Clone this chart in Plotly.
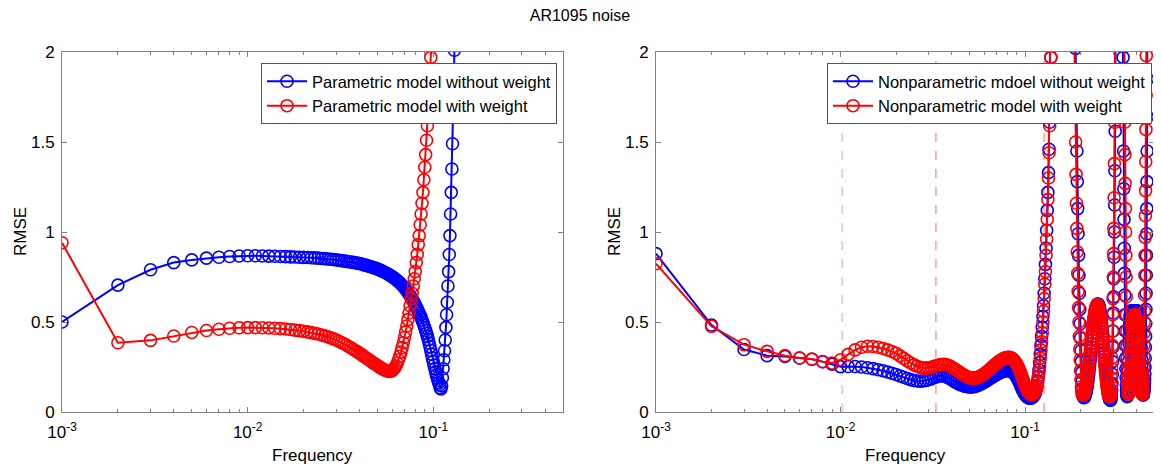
import plotly.graph_objects as go

# ---------------- data ----------------
# frequency grid (0.001 ... 0.500, step 0.001)
FREQ = [i / 1000 for i in range(1, 501)]

# Left panel: parametric models (values read until the curve leaves the 0..2 window)
P_BLUE = [
    0.500, 0.705, 0.790, 0.830, 0.845, 0.855, 0.860, 0.864, 0.867, 0.868,
    0.868, 0.867, 0.866, 0.865, 0.864, 0.863, 0.862, 0.861, 0.860, 0.859,
    0.858, 0.857, 0.856, 0.855, 0.853, 0.852, 0.850, 0.849, 0.847, 0.845,
    0.843, 0.841, 0.839, 0.837, 0.835, 0.833, 0.831, 0.829, 0.827, 0.825,
    0.822, 0.819, 0.816, 0.813, 0.810, 0.807, 0.804, 0.801, 0.798, 0.795,
    0.791, 0.787, 0.783, 0.779, 0.775, 0.771, 0.767, 0.762, 0.757, 0.752,
    0.747, 0.742, 0.736, 0.730, 0.724, 0.718, 0.711, 0.704, 0.697, 0.690,
    0.682, 0.674, 0.665, 0.656, 0.647, 0.637, 0.627, 0.617, 0.606, 0.595,
    0.584, 0.573, 0.561, 0.549, 0.537, 0.524, 0.511, 0.497, 0.483, 0.468,
    0.453, 0.437, 0.420, 0.402, 0.383, 0.363, 0.342, 0.321, 0.300, 0.280,
    0.260, 0.241, 0.223, 0.206, 0.190, 0.175, 0.162, 0.150, 0.135, 0.128,
    0.145, 0.190, 0.240, 0.290, 0.340, 0.400, 0.470, 0.540, 0.610, 0.700,
    0.780, 0.875, 0.980, 1.100, 1.220, 1.350, 1.490, 1.650, 1.820, 2.010,
    2.220,
]
P_RED = [
    0.940, 0.385, 0.398, 0.422, 0.442, 0.453, 0.460, 0.465, 0.468, 0.469,
    0.469, 0.468, 0.467, 0.465, 0.463, 0.461, 0.458, 0.455, 0.452, 0.449,
    0.445, 0.441, 0.437, 0.433, 0.428, 0.423, 0.418, 0.412, 0.406, 0.400,
    0.393, 0.386, 0.379, 0.372, 0.364, 0.357, 0.349, 0.342, 0.334, 0.327,
    0.319, 0.312, 0.304, 0.297, 0.290, 0.283, 0.276, 0.270, 0.264, 0.258,
    0.252, 0.246, 0.241, 0.236, 0.232, 0.229, 0.227, 0.226, 0.227, 0.230,
    0.236, 0.245, 0.257, 0.272, 0.290, 0.310, 0.333, 0.358, 0.385, 0.414,
    0.445, 0.478, 0.513, 0.550, 0.590, 0.630, 0.660, 0.700, 0.740, 0.780,
    0.830, 0.876, 0.930, 0.980, 1.040, 1.100, 1.160, 1.220, 1.290, 1.360,
    1.430, 1.510, 1.590, 1.680, 1.770, 1.870, 1.970, 2.080,
]

# Right panel: nonparametric models, 0.001 ... 0.500
NP_BLUE = [
    0.880, 0.483, 0.347, 0.313, 0.308, 0.300, 0.293, 0.280, 0.266, 0.252,
    0.253, 0.253, 0.250, 0.246, 0.241, 0.235, 0.229, 0.222, 0.215, 0.208,
    0.200, 0.193, 0.186, 0.180, 0.175, 0.172, 0.171, 0.172, 0.175, 0.179,
    0.184, 0.190, 0.195, 0.199, 0.201, 0.200, 0.197, 0.192, 0.186, 0.179,
    0.172, 0.166, 0.160, 0.155, 0.151, 0.147, 0.144, 0.142, 0.140, 0.139,
    0.139, 0.140, 0.141, 0.143, 0.146, 0.149, 0.153, 0.157, 0.161, 0.165,
    0.170, 0.174, 0.179, 0.183, 0.188, 0.192, 0.196, 0.200, 0.204, 0.208,
    0.212, 0.215, 0.218, 0.221, 0.224, 0.226, 0.228, 0.229, 0.230, 0.231,
    0.231, 0.230, 0.229, 0.227, 0.224, 0.220, 0.215, 0.209, 0.202, 0.194,
    0.185, 0.175, 0.165, 0.154, 0.143, 0.132, 0.122, 0.113, 0.105, 0.098,
    0.092, 0.087, 0.083, 0.080, 0.078, 0.077, 0.077, 0.078, 0.080, 0.083,
    0.087, 0.093, 0.100, 0.110, 0.125, 0.145, 0.170, 0.200, 0.235, 0.275,
    0.320, 0.370, 0.420, 0.470, 0.530, 0.590, 0.660, 0.740, 0.820, 0.910,
    1.010, 1.120, 1.220, 1.330, 1.460, 1.610, 1.780, 1.970, 2.200, 2.480,
    2.800, 3.150, 3.550, 3.950, 4.350, 4.700, 5.000, 5.250, 5.400, 5.500,
    5.550, 5.550, 5.500, 5.400, 5.300, 5.150, 5.000, 4.850, 4.700, 4.550,
    4.400, 4.250, 4.100, 3.950, 3.800, 3.650, 3.550, 3.450, 3.350, 3.250,
    3.150, 3.050, 2.980, 2.920, 2.860, 2.800, 2.740, 2.680, 2.620, 2.550,
    2.480, 2.420, 2.360, 2.300, 2.240, 2.180, 2.100, 2.020, 1.840, 1.640,
    1.450, 1.280, 1.130, 0.990, 0.870, 0.760, 0.660, 0.570, 0.490, 0.410,
    0.340, 0.280, 0.220, 0.170, 0.130, 0.100, 0.085, 0.080, 0.081, 0.083,
    0.087, 0.093, 0.100, 0.108, 0.118, 0.130, 0.143, 0.156, 0.171, 0.187,
    0.204, 0.222, 0.240, 0.260, 0.280, 0.300, 0.320, 0.340, 0.360, 0.380,
    0.400, 0.420, 0.439, 0.458, 0.476, 0.493, 0.509, 0.524, 0.538, 0.550,
    0.561, 0.571, 0.580, 0.587, 0.593, 0.597, 0.599, 0.600, 0.599, 0.597,
    0.593, 0.587, 0.580, 0.571, 0.561, 0.550, 0.538, 0.524, 0.510, 0.494,
    0.478, 0.461, 0.443, 0.425, 0.406, 0.387, 0.368, 0.349, 0.330, 0.311,
    0.292, 0.273, 0.254, 0.236, 0.218, 0.201, 0.184, 0.168, 0.153, 0.139,
    0.126, 0.114, 0.103, 0.094, 0.086, 0.079, 0.074, 0.070, 0.067, 0.066,
    0.066, 0.070, 0.080, 0.095, 0.120, 0.160, 0.210, 0.280, 0.360, 0.450,
    0.550, 0.640, 0.740, 0.860, 1.000, 1.150, 1.340, 1.560, 1.820, 2.120,
    2.450, 2.800, 3.200, 3.600, 4.000, 4.300, 4.600, 4.800, 4.900, 5.000,
    5.000, 4.950, 4.850, 4.700, 4.500, 4.300, 4.100, 3.900, 3.700, 3.550,
    3.400, 3.200, 3.000, 2.850, 2.700, 2.580, 2.460, 2.340, 2.200, 1.970,
    1.690, 1.450, 1.240, 1.070, 0.910, 0.770, 0.650, 0.540, 0.450, 0.370,
    0.300, 0.240, 0.190, 0.150, 0.120, 0.100, 0.090, 0.085, 0.090, 0.110,
    0.140, 0.180, 0.230, 0.280, 0.330, 0.380, 0.420, 0.460, 0.490, 0.510,
    0.530, 0.540, 0.550, 0.555, 0.558, 0.560, 0.561, 0.562, 0.562, 0.562,
    0.562, 0.561, 0.561, 0.560, 0.560, 0.559, 0.559, 0.558, 0.558, 0.558,
    0.558, 0.558, 0.559, 0.559, 0.560, 0.560, 0.561, 0.561, 0.562, 0.562,
    0.562, 0.562, 0.561, 0.561, 0.560, 0.560, 0.559, 0.559, 0.558, 0.557,
    0.556, 0.555, 0.553, 0.551, 0.548, 0.545, 0.540, 0.530, 0.520, 0.505,
    0.490, 0.470, 0.445, 0.420, 0.390, 0.360, 0.330, 0.295, 0.260, 0.225,
    0.190, 0.160, 0.135, 0.115, 0.100, 0.095, 0.095, 0.100, 0.105, 0.110,
    0.120, 0.130, 0.145, 0.160, 0.180, 0.210, 0.250, 0.300, 0.360, 0.420,
    0.490, 0.570, 0.660, 0.760, 0.870, 0.990, 1.130, 1.280, 1.450, 1.640,
    1.850, 2.100, 2.400, 2.750, 3.100, 3.500, 3.900, 4.300, 4.700, 5.100,
    5.500, 5.900, 6.200, 6.500, 6.700, 6.900, 7.000, 7.100, 7.100, 7.000,
    6.900, 6.800, 6.600, 6.400, 6.200, 6.000, 5.800, 5.600, 5.400, 5.200,
    5.000, 4.800, 4.600, 4.500, 4.400, 4.300, 4.200, 4.100, 4.000, 3.900,
]
NP_RED = [
    0.824, 0.476, 0.374, 0.337, 0.313, 0.300, 0.294, 0.279, 0.272, 0.290,
    0.320, 0.345, 0.360, 0.365, 0.364, 0.360, 0.353, 0.345, 0.336, 0.326,
    0.312, 0.298, 0.284, 0.272, 0.262, 0.254, 0.248, 0.245, 0.244, 0.245,
    0.248, 0.252, 0.257, 0.261, 0.264, 0.265, 0.264, 0.261, 0.256, 0.250,
    0.243, 0.236, 0.229, 0.222, 0.215, 0.209, 0.203, 0.198, 0.194, 0.191,
    0.189, 0.188, 0.188, 0.189, 0.191, 0.194, 0.198, 0.202, 0.207, 0.212,
    0.217, 0.223, 0.229, 0.235, 0.241, 0.247, 0.253, 0.259, 0.265, 0.270,
    0.275, 0.280, 0.284, 0.288, 0.292, 0.295, 0.298, 0.300, 0.302, 0.303,
    0.304, 0.304, 0.303, 0.301, 0.298, 0.294, 0.289, 0.283, 0.276, 0.268,
    0.259, 0.249, 0.238, 0.226, 0.213, 0.200, 0.187, 0.174, 0.161, 0.149,
    0.138, 0.128, 0.119, 0.112, 0.106, 0.102, 0.099, 0.097, 0.097, 0.098,
    0.101, 0.105, 0.111, 0.119, 0.130, 0.145, 0.165, 0.190, 0.220, 0.255,
    0.300, 0.345, 0.390, 0.440, 0.500, 0.560, 0.630, 0.710, 0.780, 0.870,
    0.960, 1.070, 1.180, 1.300, 1.440, 1.590, 1.780, 1.970, 2.200, 2.500,
    2.850, 3.250, 3.700, 4.150, 4.600, 5.000, 5.350, 5.600, 5.800, 5.900,
    5.950, 5.950, 5.900, 5.800, 5.650, 5.500, 5.300, 5.100, 4.900, 4.700,
    4.500, 4.300, 4.100, 3.900, 3.700, 3.550, 3.400, 3.250, 3.100, 2.980,
    2.880, 2.800, 2.720, 2.650, 2.580, 2.520, 2.460, 2.400, 2.350, 2.300,
    2.260, 2.220, 2.180, 2.140, 2.080, 1.900, 1.700, 1.500, 1.320, 1.160,
    1.020, 0.890, 0.770, 0.670, 0.580, 0.500, 0.420, 0.350, 0.290, 0.230,
    0.180, 0.140, 0.115, 0.100, 0.095, 0.095, 0.096, 0.098, 0.102, 0.107,
    0.114, 0.122, 0.131, 0.143, 0.155, 0.168, 0.183, 0.198, 0.215, 0.232,
    0.249, 0.268, 0.287, 0.306, 0.325, 0.345, 0.364, 0.383, 0.402, 0.421,
    0.440, 0.458, 0.475, 0.491, 0.506, 0.520, 0.533, 0.545, 0.556, 0.565,
    0.573, 0.580, 0.586, 0.590, 0.593, 0.595, 0.594, 0.592, 0.588, 0.583,
    0.576, 0.567, 0.557, 0.546, 0.534, 0.521, 0.507, 0.492, 0.476, 0.460,
    0.443, 0.425, 0.407, 0.389, 0.370, 0.351, 0.332, 0.313, 0.294, 0.276,
    0.258, 0.240, 0.223, 0.206, 0.190, 0.175, 0.160, 0.147, 0.134, 0.123,
    0.113, 0.104, 0.097, 0.092, 0.088, 0.086, 0.085, 0.085, 0.087, 0.091,
    0.098, 0.120, 0.150, 0.190, 0.240, 0.300, 0.370, 0.450, 0.540, 0.630,
    0.750, 0.880, 1.020, 1.190, 1.380, 1.610, 1.870, 2.150, 2.500, 2.900,
    3.300, 3.700, 4.100, 4.500, 4.800, 5.100, 5.300, 5.450, 5.550, 5.600,
    5.600, 5.550, 5.450, 5.300, 5.100, 4.900, 4.700, 4.450, 4.200, 4.000,
    3.800, 3.600, 3.400, 3.200, 3.050, 2.900, 2.780, 2.660, 2.550, 2.450,
    2.350, 2.280, 2.220, 2.160, 2.080, 1.850, 1.610, 1.430, 1.270, 1.130,
    1.000, 0.870, 0.750, 0.640, 0.540, 0.450, 0.370, 0.300, 0.240, 0.190,
    0.150, 0.120, 0.105, 0.100, 0.101, 0.105, 0.112, 0.121, 0.133, 0.147,
    0.164, 0.183, 0.203, 0.225, 0.248, 0.272, 0.296, 0.320, 0.344, 0.368,
    0.392, 0.415, 0.437, 0.457, 0.476, 0.494, 0.509, 0.521, 0.530, 0.536,
    0.539, 0.540, 0.540, 0.539, 0.537, 0.534, 0.530, 0.525, 0.519, 0.511,
    0.502, 0.492, 0.481, 0.469, 0.456, 0.442, 0.427, 0.411, 0.395, 0.378,
    0.361, 0.343, 0.325, 0.307, 0.289, 0.271, 0.254, 0.237, 0.220, 0.204,
    0.189, 0.175, 0.161, 0.149, 0.138, 0.128, 0.120, 0.113, 0.108, 0.104,
    0.101, 0.100, 0.100, 0.105, 0.115, 0.130, 0.160, 0.200, 0.250, 0.310,
    0.370, 0.440, 0.500, 0.560, 0.650, 0.760, 0.870, 0.970, 1.090, 1.230,
    1.390, 1.570, 1.760, 1.980, 2.200, 2.450, 2.750, 3.050, 3.400, 3.750,
    4.100, 4.500, 4.900, 5.300, 5.700, 6.000, 6.300, 6.600, 6.800, 7.000,
    7.100, 7.200, 7.200, 7.200, 7.100, 7.000, 6.900, 6.700, 6.500, 6.300,
    6.100, 5.900, 5.700, 5.500, 5.300, 5.100, 4.900, 4.700, 4.500, 4.300,
    4.100, 3.900, 3.700, 3.500, 3.300, 3.100, 2.900, 2.700, 2.500, 2.300,
]

# reference frequencies marked with dashed lines on the right panel
DASH_FREQ = [0.0102, 0.0329, 0.1268]

LEGEND_LEFT = ["Parametric model without weight", "Parametric model with weight"]
LEGEND_RIGHT = ["Nonparametric mdoel without weight", "Nonparametric model with weight"]
TITLE = "AR1095 noise"

# ---------------- figure ----------------
# the page body has an 8 px margin, so the figure is drawn 8 px in from the window corner
OFF = 8
W, H = 1161 - OFF, 468 - OFF
FONT = "Liberation Sans, Arial, sans-serif"
BLUE, RED = "#0000ff", "#ff0000"
AXC = "#7f7f7f"


def px(x):
    """window x pixel -> paper fraction"""
    return (x - OFF) / W


def py(y):
    """window y pixel (from top) -> paper fraction"""
    return 1 - (y - OFF) / H


fig = go.Figure()


def add_series(x, y, color, name, xa, ya, legend):
    fig.add_trace(go.Scatter(
        x=x, y=y, name=name, mode="lines+markers",
        line=dict(color=color, width=2),
        marker=dict(symbol="circle-open", size=12, color=color,
                    line=dict(width=1.6, color=color)),
        xaxis=xa, yaxis=ya, legend=legend, cliponaxis=True,
    ))


# dashed reference lines (right panel)
for i, f in enumerate(DASH_FREQ):
    fig.add_trace(go.Scatter(
        x=[f, f], y=[0, 2], mode="lines", showlegend=False, hoverinfo="skip",
        line=dict(color="#ff9a9a" if i == 0 else "#ff6a6a", width=1, dash="dash"),
        xaxis="x2", yaxis="y2",
    ))

add_series(FREQ[:len(P_BLUE)], P_BLUE, BLUE, LEGEND_LEFT[0], "x", "y", "legend")
add_series(FREQ[:len(P_RED)], P_RED, RED, LEGEND_LEFT[1], "x", "y", "legend")
add_series(FREQ[:len(NP_BLUE)], NP_BLUE, BLUE, LEGEND_RIGHT[0], "x2", "y2", "legend2")
add_series(FREQ[:len(NP_RED)], NP_RED, RED, LEGEND_RIGHT[1], "x2", "y2", "legend2")

yd = [py(412), py(52)]
xd1 = [px(62), px(563)]
xd2 = [px(656), min(1.0, px(1154))]


def xaxis(domain, anchor):
    return dict(
        type="log", domain=domain, anchor=anchor, automargin=False,
        range=[-3, -0.30103],
        tickvals=[0.001, 0.01, 0.1], ticktext=["10<sup>-3</sup>", "10<sup>-2</sup>", "10<sup>-1</sup>"],
        ticks="inside", ticklen=5, tickcolor=AXC, ticklabelstandoff=5,
        minor=dict(ticks="inside", ticklen=3, tickcolor=AXC,
                   tickvals=[m * d for d in (0.001, 0.01, 0.1) for m in range(2, 10) if m * d <= 0.5]),
        showline=True, linecolor=AXC, linewidth=1, mirror="ticks",
        showgrid=False, zeroline=False,
        tickfont=dict(family=FONT, size=17, color="#000"),
    )


def yaxis(anchor):
    return dict(
        domain=yd, anchor=anchor, range=[0, 2], automargin=False,
        tickvals=[0, 0.5, 1, 1.5, 2], ticktext=["0", "0.5", "1", "1.5", "2"],
        ticks="inside", ticklen=5, tickcolor=AXC, ticklabelstandoff=3,
        showline=True, linecolor=AXC, linewidth=1, mirror="ticks",
        showgrid=False, zeroline=False,
        tickfont=dict(family=FONT, size=17, color="#000"),
    )


legend_common = dict(
    bgcolor="white", bordercolor="#555", borderwidth=1,
    font=dict(family=FONT, size=16.5, color="#000"),
    xanchor="right", yanchor="top", tracegroupgap=0, itemwidth=40,
)

fig.update_layout(
    width=W, height=H,
    margin=dict(l=0, r=0, t=0, b=0, autoexpand=False),
    paper_bgcolor="white", plot_bgcolor="white",
    font=dict(family=FONT, size=16, color="#000"),
    title=dict(text=TITLE, x=px(580), xanchor="center", y=py(15), yanchor="middle",
               xref="paper", yref="paper", automargin=False,
               font=dict(family=FONT, size=16, color="#000")),
    xaxis=xaxis(xd1, "y"), yaxis=yaxis("x"),
    xaxis2=xaxis(xd2, "y2"), yaxis2=yaxis("x2"),
    legend=dict(x=px(557), y=py(63), **legend_common),
    legend2=dict(x=px(1152), y=py(63), **legend_common),
    showlegend=True,
    annotations=[
        dict(text="Frequency", x=(xd1[0] + xd1[1]) / 2, y=py(455), xref="paper", yref="paper",
             showarrow=False, font=dict(family=FONT, size=17), xanchor="center", yanchor="middle"),
        dict(text="Frequency", x=(xd2[0] + xd2[1]) / 2, y=py(455), xref="paper", yref="paper",
             showarrow=False, font=dict(family=FONT, size=17), xanchor="center", yanchor="middle"),
        dict(text="RMSE", x=px(20), y=(yd[0] + yd[1]) / 2, xref="paper", yref="paper", textangle=-90,
             showarrow=False, font=dict(family=FONT, size=17), xanchor="center", yanchor="middle"),
        dict(text="RMSE", x=px(614), y=(yd[0] + yd[1]) / 2, xref="paper", yref="paper", textangle=-90,
             showarrow=False, font=dict(family=FONT, size=17), xanchor="center", yanchor="middle"),
    ],
)

fig.write_html("out.html")
